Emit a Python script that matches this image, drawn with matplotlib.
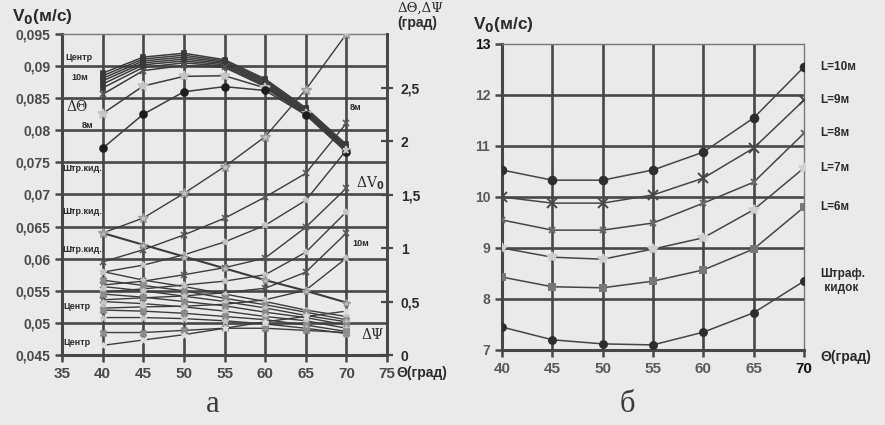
"""Two scanned-style charts: V0 and deviations vs launch angle (а), V0 vs angle for different L (б)."""

import matplotlib

matplotlib.use("Agg")
import matplotlib.pyplot as plt

W, H = 885, 425
PAPER = "#eaeaea"
INK = "#2b2b2b"
GRID = "#474747"
LINE = "#3c3c3c"
LIGHT = "#c4c4c4"

theta = [40, 45, 50, 55, 60, 65, 70]

# --- chart а, left axis: V0 family (м/с), top to bottom at 40 deg ---
v0_family = [
    [0.0889, 0.0914, 0.0920, 0.0910, 0.0880, 0.0835, 0.0778],
    [0.0885, 0.0911, 0.0917, 0.0908, 0.0878, 0.0833, 0.0776],
    [0.0881, 0.0908, 0.0914, 0.0906, 0.0876, 0.0831, 0.0774],
    [0.0877, 0.0905, 0.0911, 0.0904, 0.0874, 0.0830, 0.0772],
    [0.0872, 0.0902, 0.0908, 0.0902, 0.0872, 0.0828, 0.0770],
    [0.0866, 0.0898, 0.0905, 0.0900, 0.0870, 0.0827, 0.0769],
    [0.0856, 0.0893, 0.0901, 0.0898, 0.0868, 0.0826, 0.0768],
    [0.0826, 0.0869, 0.0884, 0.0885, 0.0866, 0.0825, 0.0767],
    [0.0772, 0.0825, 0.0860, 0.0868, 0.0862, 0.0824, 0.0766],
]

# --- chart а, left axis: ΔV0 family, rising ---
dv0_family = [
    [0.0595, 0.0614, 0.0637, 0.0663, 0.0696, 0.0733, 0.0811],
    [0.0579, 0.0590, 0.0606, 0.0626, 0.0652, 0.0691, 0.0769],
    [0.0559, 0.0565, 0.0575, 0.0586, 0.0601, 0.0649, 0.0710],
    [0.0548, 0.0553, 0.0559, 0.0565, 0.0575, 0.0610, 0.0673],
    [0.0536, 0.0539, 0.0542, 0.0547, 0.0554, 0.0579, 0.0640],
    [0.0523, 0.0525, 0.0526, 0.0529, 0.0536, 0.0551, 0.0601],
]

# --- chart а, right axis (град): ΔΘ for Штр.кид. and ΔΨ family ---
dtheta_kick = [1.14, 1.28, 1.51, 1.76, 2.04, 2.48, 3.00]
dpsi_kick = [1.14, 1.03, 0.92, 0.81, 0.70, 0.60, 0.49]
dpsi_family = [
    [0.78, 0.70, 0.64, 0.57, 0.50, 0.42, 0.36],
    [0.70, 0.65, 0.60, 0.53, 0.47, 0.40, 0.33],
    [0.64, 0.60, 0.55, 0.50, 0.44, 0.37, 0.31],
    [0.57, 0.54, 0.50, 0.46, 0.40, 0.35, 0.28],
    [0.50, 0.48, 0.45, 0.41, 0.36, 0.32, 0.25],
    [0.42, 0.41, 0.39, 0.36, 0.33, 0.28, 0.22],
    [0.35, 0.35, 0.34, 0.32, 0.29, 0.25, 0.20],
    [0.21, 0.21, 0.23, 0.25, 0.25, 0.23, 0.21],
]
dpsi_center = [0.09, 0.14, 0.19, 0.25, 0.31, 0.36, 0.41]

a_xticks = [35, 40, 45, 50, 55, 60, 65, 70, 75]
a_yticks = [0.045, 0.05, 0.055, 0.06, 0.065, 0.07, 0.075, 0.08, 0.085, 0.09, 0.095]
a_ylabels = ["0,045", "0,05", "0,055", "0,06", "0,065", "0,07", "0,075",
             "0,08", "0,085", "0,09", "0,095"]
a_rticks = [0, 0.5, 1, 1.5, 2, 2.5]
a_rlabels = ["0", "0,5", "1", "1,5", "2", "2,5"]

# --- chart б: V0 (м/с) for each L ---
b_names = ["L=10м", "L=9м", "L=8м", "L=7м", "L=6м", "Штраф.\n кидок"]
b_values = [
    [10.53, 10.33, 10.33, 10.53, 10.88, 11.55, 12.55],
    [10.00, 9.88, 9.88, 10.04, 10.37, 10.96, 11.90],
    [9.55, 9.35, 9.35, 9.49, 9.88, 10.29, 11.25],
    [9.00, 8.82, 8.78, 8.98, 9.20, 9.75, 10.57],
    [8.43, 8.24, 8.22, 8.35, 8.57, 8.98, 9.80],
    [7.45, 7.20, 7.12, 7.10, 7.35, 7.73, 8.35],
]
b_xticks = [40, 45, 50, 55, 60, 65, 70]
b_yticks = [7, 8, 9, 10, 11, 12, 13]

plt.rcParams["font.family"] = ["Liberation Sans", "DejaVu Sans"]
plt.rcParams["font.weight"] = "bold"


def fx(x):
    return x / W


def fy(y):
    return 1 - y / H


def frame(ax, xt, yt):
    ax.set_facecolor("none")
    for v in xt[1:-1]:
        ax.axvline(v, color=GRID, lw=1.9, zorder=1)
    for v in yt[1:-1]:
        ax.axhline(v, color=GRID, lw=1.9, zorder=1)
    for side in ("left", "bottom"):
        ax.spines[side].set_color(GRID)
        ax.spines[side].set_linewidth(2.2)
    ax.spines["top"].set_color("#777777")
    ax.spines["top"].set_linewidth(1.0)
    ax.spines["top"].set_linestyle((0, (1, 1)))
    ax.tick_params(axis="both", direction="out", length=5, width=1.8,
                   color=GRID, labelcolor="#4a4a4a")


fig = plt.figure(figsize=(W / 100, H / 100), dpi=100)
fig.patch.set_facecolor(PAPER)

# ---------------- chart а ----------------
ax = fig.add_axes([fx(62), fy(355), fx(325), 321 / H])
ax.set_xlim(35, 75)
ax.set_ylim(0.045, 0.095)
frame(ax, a_xticks, a_yticks)
ax.spines["right"].set_color(GRID)
ax.spines["right"].set_linewidth(2.0)
ax.set_xticks(a_xticks)
ax.set_xticklabels([str(t) for t in a_xticks], fontsize=11)
ax.set_yticks(a_yticks)
ax.set_yticklabels(a_ylabels, fontsize=10)

styles_v0 = [("s", "#3a3a3a", 3.5)] * 6 + [("x", "#555555", 4.5), ("*", LIGHT, 7), ("o", "#1e1e1e", 5)]
for vals, (m, c, s) in zip(v0_family, styles_v0):
    ax.plot(theta, vals, color=LINE, lw=1.1, marker=m, ms=s, mfc=c, mec=c,
            mew=1.2, zorder=3)

for i, vals in enumerate(dv0_family):
    m, c = ("x", "#5a5a5a") if i % 2 == 0 else ("*", LIGHT)
    ax.plot(theta, vals, color=LINE, lw=1.0, marker=m, ms=5, mfc=c, mec=c,
            mew=1.2, zorder=3)

axr = ax.twinx()
axr.set_ylim(0, 3)
axr.set_facecolor("none")
for side in ("left", "top", "bottom"):
    axr.spines[side].set_visible(False)
axr.spines["right"].set_color(GRID)
axr.spines["right"].set_linewidth(2.0)
axr.set_yticks(a_rticks)
axr.set_yticklabels(a_rlabels, fontsize=10, color=INK)
axr.tick_params(axis="y", direction="inout", length=8, width=1.6, color=GRID, pad=6)

axr.plot(theta, dtheta_kick, color=LINE, lw=1.0, marker="*", ms=7, mfc=LIGHT,
         mec="#9c9c9c", zorder=3)
axr.plot(theta, dpsi_kick, color=LINE, lw=1.5, marker="*", ms=6, mfc=LIGHT,
         mec="#9c9c9c", zorder=3)
for i, vals in enumerate(dpsi_family):
    m, c = ("*", LIGHT) if i % 2 == 0 else ("X", "#8c8c8c")
    axr.plot(theta, vals, color=LINE, lw=1.0, marker=m, ms=5, mfc=c, mec=c,
             zorder=3)
axr.plot(theta, dpsi_center, color=LINE, lw=1.0, marker="*", ms=4.5, mfc="#dddddd",
         mec="#dddddd", zorder=3)

small = dict(fontsize=6.5, color=INK, va="center", ha="left", zorder=5)
for x, y, s in [(35.4, 0.0914, "Центр"), (36.2, 0.0883, "10м"),
                (37.4, 0.0808, "8м"), (35.1, 0.0741, "Штр.кид."),
                (35.1, 0.0673, "Штр.кид."), (35.1, 0.0614, "Штр.кид."),
                (35.2, 0.0526, "Центр"), (35.2, 0.0469, "Центр"),
                (70.4, 0.0835, "8м"), (70.7, 0.0624, "10м")]:
    ax.text(x, y, s, **small)
greek = dict(fontsize=10, color=INK, va="center", ha="left", family="DejaVu Serif",
             weight="normal", zorder=5)
ax.text(35.5, 0.0836, "ΔΘ", **greek)
ax.text(71.2, 0.0718, "ΔV$_0$", **greek)
ax.text(71.8, 0.0481, "ΔΨ", **greek)

fig.text(fx(12), fy(16), "V$_0$(м/с)", fontsize=12.5, color=INK, va="center")
fig.text(fx(397), fy(8), "ΔΘ,ΔΨ", fontsize=9.5, color=INK, va="center",
         family="DejaVu Serif", weight="normal")
fig.text(fx(397), fy(23), "(град)", fontsize=10, color=INK, va="center")
fig.text(fx(396), fy(373), "Θ(град)", fontsize=10, color=INK, va="center")
fig.text(fx(213), fy(405), "а", fontsize=22, color="#3a3a3a", ha="center",
         va="center", family="Liberation Serif", weight="normal")

# ---------------- chart б ----------------
bx = fig.add_axes([fx(502), fy(350), fx(302), 306 / H])
bx.set_xlim(40, 70)
bx.set_ylim(7, 13)
frame(bx, b_xticks, b_yticks)
bx.spines["right"].set_color("#777777")
bx.spines["right"].set_linewidth(1.0)
bx.spines["right"].set_linestyle((0, (1, 1)))
bx.set_xticks(b_xticks)
bx.set_xticklabels([str(t) for t in b_xticks], fontsize=11, color="#5a5a5a")
bx.get_xticklabels()[-1].set_color("#111111")
bx.set_yticks(b_yticks)
bx.set_yticklabels([str(t) for t in b_yticks], fontsize=10, color="#5a5a5a")
bx.get_yticklabels()[-1].set_color("#111111")

b_styles = [("o", "#2e2e2e", 5.5), ("x", "#474747", 6.5), ("x", "#6a6a6a", 4.5),
            ("*", "#cfcfcf", 7), ("s", "#777777", 5), ("o", "#2e2e2e", 5)]
for name, vals, (m, c, s) in zip(b_names, b_values, b_styles):
    bx.plot(b_xticks, vals, color="#454545", lw=1.1, marker=m, ms=s, mfc=c,
            mec=c, mew=1.4, zorder=3)
    bx.annotate(name, xy=(70, vals[-1]), xytext=(12, 0), textcoords="offset points",
                fontsize=8.5, color=INK, va="center", ha="left",
                annotation_clip=False)

fig.text(fx(473), fy(24), "V$_0$(м/с)", fontsize=12.5, color=INK, va="center")
fig.text(fx(820), fy(357), "Θ(град)", fontsize=10, color=INK, va="center")
fig.text(fx(627), fy(405), "б", fontsize=22, color="#3a3a3a", ha="center",
         va="center", family="Liberation Serif", weight="normal")

fig.savefig("out.png", dpi=100, facecolor=PAPER)
